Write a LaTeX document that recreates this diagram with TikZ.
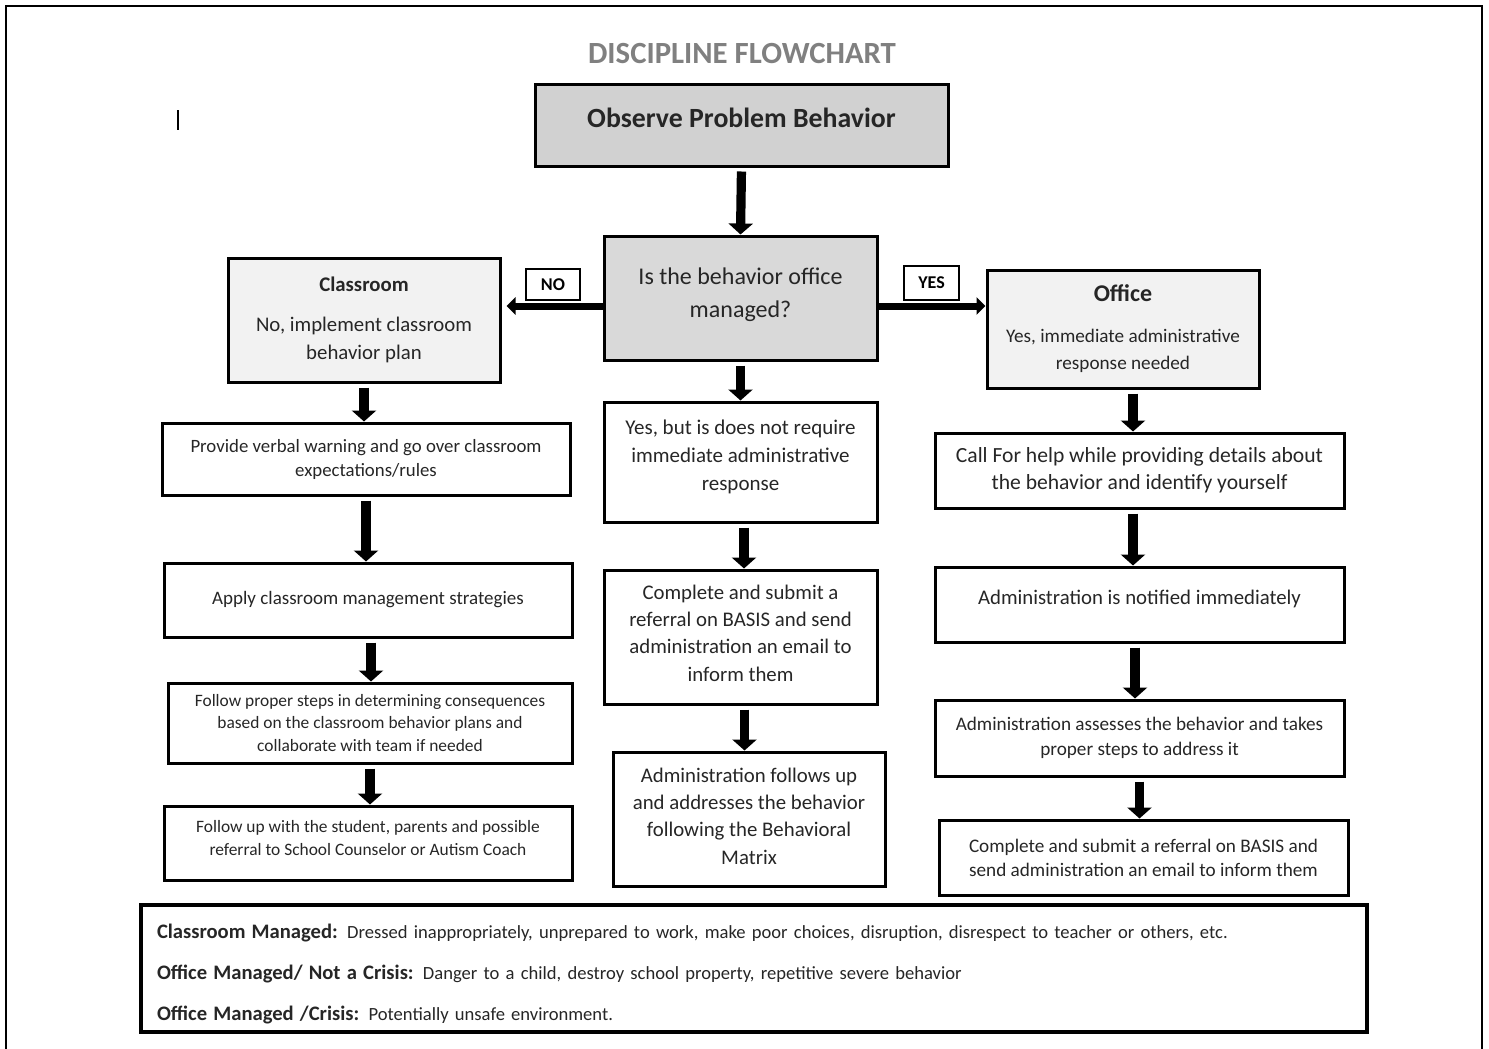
\documentclass[tikz,border=0pt]{standalone}
\usepackage{fontspec}
\setmainfont{Carlito}
\usetikzlibrary{arrows.meta}

\begin{document}
\begin{tikzpicture}[x=0.5pt,y=-0.5pt,
  box/.style={draw,line width=1.5pt,inner sep=0pt,align=center,text=black!85},
  downarrow/.style={line width=4.6pt,-{Triangle[width=12pt,length=5.5pt]},shorten <=2pt},
  sidearrow/.style={line width=3.5pt,-{Triangle[width=8.5pt,length=4.5pt]}},
  tag/.style={draw,line width=1pt,inner sep=0pt,fill=white,font=\bfseries\fontsize{9}{10}\selectfont}]
\useasboundingbox (0,0) rectangle (1489,1049);
\draw[line width=1.1pt] (6,1049) -- (6,6) -- (1482,6) -- (1482,1049);
\node[font=\bfseries\fontsize{15.4}{18}\selectfont,text=black!50] (title) at (742,54) {DISCIPLINE FLOWCHART};
\draw[line width=0.6pt] (178,110) -- (178,130);
\node[box,fill=black!18,minimum width=206.5pt,minimum height=41pt,text depth=7pt,font=\bfseries\fontsize{13.9}{16}\selectfont] (observe) at (741.5,125) {Observe Problem Behavior};
\node[box,fill=black!15,minimum width=136.5pt,minimum height=62pt,text depth=5.5pt,font=\fontsize{12}{16.5}\selectfont] (decide) at (740.5,298) {Is the behavior office\\managed?};
\node[box,fill=black!5,minimum width=136pt,minimum height=62pt,font=\fontsize{10.4}{14}\selectfont] (classroom) at (364,320) {\textbf{Classroom}\\[6pt]No, implement classroom\\behavior plan};
\node[box,fill=black!5,minimum width=136pt,minimum height=59pt,font=\fontsize{9.6}{13.5}\selectfont] (office) at (1123,329) {{\fontsize{12}{14}\selectfont\bfseries Office}\\[7pt]Yes, immediate administrative\\response needed};
\node[box,minimum width=204pt,minimum height=36pt,font=\fontsize{9.4}{12}\selectfont] (warning) at (366,459) {Provide verbal warning and go over classroom\\expectations/rules};
\node[box,minimum width=204pt,minimum height=37pt,font=\fontsize{9.5}{12}\selectfont] (strategies) at (368,600) {Apply classroom management strategies};
\node[box,minimum width=202pt,minimum height=40pt,font=\fontsize{8.7}{11.2}\selectfont] (consequences) at (370,723) {Follow proper steps in determining consequences\\based on the classroom behavior plans and\\collaborate with team if needed};
\node[box,minimum width=204pt,minimum height=37pt,text depth=5pt,font=\fontsize{8.7}{11.5}\selectfont] (followup) at (368,843) {Follow up with the student, parents and possible\\referral to School Counselor or Autism Coach};
\node[box,minimum width=136.5pt,minimum height=60pt,text depth=7.2pt,font=\fontsize{10.5}{14}\selectfont] (notrequired) at (740.5,462) {Yes, but is does not require\\immediate administrative\\response};
\node[box,minimum width=136.5pt,minimum height=67pt,text depth=4pt,font=\fontsize{10.4}{13.7}\selectfont] (referral) at (740.5,637) {Complete and submit a\\referral on BASIS and send\\administration an email to\\inform them};
\node[box,minimum width=136pt,minimum height=67pt,text depth=3pt,font=\fontsize{10.4}{13.7}\selectfont] (matrix) at (749,819) {Administration follows up\\and addresses the behavior\\following the Behavioral\\Matrix};
\node[box,minimum width=204.5pt,minimum height=37.5pt,font=\fontsize{10.8}{13.5}\selectfont] (callhelp) at (1139.5,470.5) {Call For help while providing details about\\the behavior and identify yourself};
\node[box,minimum width=204.5pt,minimum height=37.5pt,text depth=7pt,font=\fontsize{10.4}{13}\selectfont] (notified) at (1139.5,604.5) {Administration is notified immediately};
\node[box,minimum width=204.5pt,minimum height=38pt,font=\fontsize{9.6}{12.5}\selectfont] (assesses) at (1139.5,738) {Administration assesses the behavior and takes\\proper steps to address it};
\node[box,minimum width=204.5pt,minimum height=37.5pt,font=\fontsize{9.6}{12}\selectfont] (officereferral) at (1143.5,857.5) {Complete and submit a referral on BASIS and\\send administration an email to inform them};
\node[draw,line width=1.8pt,minimum width=613pt,minimum height=63.5pt,text width=597pt,text height=12.5pt,align=left,inner xsep=8pt,font=\fontsize{9.3}{20.5}\selectfont,text=black!85] (legend) at (754,968.5) {{\fontsize{10.3}{20.5}\selectfont\bfseries Classroom Managed:} Dressed inappropriately, unprepared to work, make poor choices, disruption, disrespect to teacher or others, etc.\\{\fontsize{10.3}{20.5}\selectfont\bfseries Office Managed/ Not a Crisis:} Danger to a child, destroy school property, repetitive severe behavior\\{\fontsize{10.3}{20.5}\selectfont\bfseries Office Managed /Crisis:} Potentially unsafe environment.};
\draw[downarrow] (observe.south) -- (decide.north);
\draw[downarrow] (decide.south) -- (notrequired.north);
\draw[downarrow] (classroom.south) -- (classroom.south |- warning.north);
\draw[downarrow] (warning.south) -- (warning.south |- strategies.north);
\draw[downarrow] ([xshift=1.5pt]strategies.south) -- ([xshift=1.5pt]strategies.south |- consequences.north);
\draw[downarrow] (consequences.south) -- (consequences.south |- followup.north);
\draw[downarrow] ([xshift=1.75pt]notrequired.south) -- ([xshift=1.75pt]notrequired.south |- referral.north);
\draw[downarrow] ([xshift=2pt]referral.south) -- ([xshift=2pt]referral.south |- matrix.north);
\draw[downarrow] ([xshift=5pt]office.south) -- ([xshift=5pt]office.south |- callhelp.north);
\draw[downarrow] ([xshift=-3.25pt]callhelp.south) -- ([xshift=-3.25pt]callhelp.south |- notified.north);
\draw[downarrow] ([xshift=-2.25pt]notified.south) -- ([xshift=-2.25pt]notified.south |- assesses.north);
\draw[downarrow] (assesses.south) -- (assesses.south |- officereferral.north);
\draw[sidearrow,shorten >=2.5pt] ([yshift=-4pt]decide.west) -- ([yshift=-4pt]decide.west -| classroom.east);
\draw[sidearrow] ([yshift=-4pt]decide.east) -- ([yshift=-4pt]decide.east -| office.west);
\node[tag,minimum width=27pt,minimum height=15.5pt] (no) at (553,284.5) {NO};
\node[tag,minimum width=27.5pt,minimum height=17pt] (yes) at (931.5,283) {YES};
\end{tikzpicture}
\end{document}
